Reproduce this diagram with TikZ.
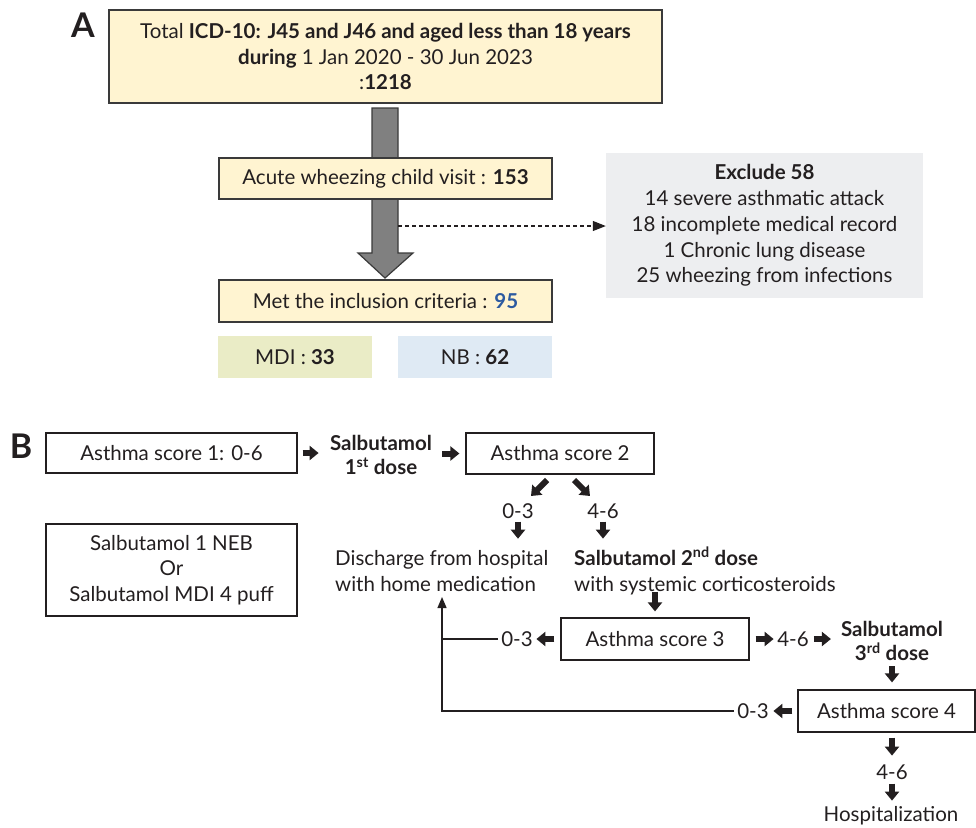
\documentclass[tikz,border=0pt]{standalone}
\usepackage{fontspec}
\setmainfont{Lato}
\usetikzlibrary{arrows.meta}
\definecolor{txt}{HTML}{231F20}
\definecolor{yel}{HTML}{FFF4D1}
\definecolor{bord}{HTML}{3A3A3A}
\definecolor{arrgray}{HTML}{808080}
\definecolor{mdic}{HTML}{EAECC6}
\definecolor{nbc}{HTML}{DFEAF4}
\definecolor{exc}{HTML}{EDEEF0}
\definecolor{blu}{HTML}{2C5AA0}
\begin{document}
\begin{tikzpicture}[x=1pt,y=-1pt,
  every node/.style={text=txt, font=\fontsize{20.5}{25.8}\selectfont},
  ybox/.style={draw=bord, line width=1.2pt, fill=yel, inner sep=0pt, align=center},
  wbox/.style={draw=txt, line width=1.2pt, fill=white, inner sep=0pt, align=center},
  flat/.style={inner sep=0pt, align=center},
  lab/.style={inner sep=3pt},
  panel/.style={font=\fontsize{34}{34}\selectfont\bfseries, inner sep=0pt},
  barrow/.style={draw=txt, line width=6pt, -{Triangle[length=9pt,width=14pt]}},
  thinarrow/.style={draw=txt, line width=1.3pt, -{Triangle[length=11pt,width=9pt]}},
]
\useasboundingbox (0,0) rectangle (976,827);

% ---------- Part A ----------
\node[panel] (A) at (83,25) {A};
\node[ybox, minimum width=553pt, minimum height=93pt] (b1) at (385.5,56.5)
  {Total \textbf{ICD-10: J45 and J46 and aged less than 18 years}\\
   \textbf{during} 1 Jan 2020 - 30 Jun 2023\\
   :\textbf{1218}};

\path[draw=bord, line width=1.2pt, fill=arrgray]
  (372,108) -- (398,108) -- (398,253) -- (413,253) -- (385,278) -- (358,253) -- (372,253) -- cycle;
\coordinate (shaftR) at (398,226);

\node[ybox, minimum width=333pt, minimum height=41pt] (b2) at (385.5,178.5)
  {Acute wheezing child visit : \textbf{153}};
\node[ybox, minimum width=333pt, minimum height=42pt] (b3) at (385.5,301)
  {Met the inclusion criteria : \textbf{\textcolor{blu}{95}}};
\node[flat, fill=mdic, minimum width=154pt, minimum height=42pt] (mdi) at (295,357)
  {MDI : \textbf{33}};
\node[flat, fill=nbc, minimum width=154pt, minimum height=42pt] (nb) at (475,357)
  {NB : \textbf{62}};
\node[flat, fill=exc, minimum width=317pt, minimum height=145pt] (ex) at (764.5,225.5)
  {\textbf{Exclude 58}\\
   14 severe asthmatic attack\\
   18 incomplete medical record\\
   1 Chronic lung disease\\
   25 wheezing from infections};
\draw[draw=txt, line width=1.2pt, dash pattern=on 4pt off 3pt,
      -{Triangle[length=13pt,width=10pt]}] (shaftR) -- (ex.west |- shaftR);

% ---------- Part B ----------
\node[panel] (B) at (21,446) {B};
\node[wbox, minimum width=251pt, minimum height=40pt] (s1) at (171.5,453)
  {Asthma score 1: 0-6};
\node[flat, font=\fontsize{20.5}{24}\selectfont\bfseries] (sal1) at (381,455)
  {Salbutamol\\1\textsuperscript{st} dose};
\node[wbox, minimum width=188pt, minimum height=41pt] (s2) at (560,453.5)
  {Asthma score 2};
\node[wbox, minimum width=251pt, minimum height=92pt] (neb) at (171.5,570)
  {Salbutamol 1 NEB\\Or\\Salbutamol MDI 4 puff};

\node[lab] (r03a) at (518,511) {0-3};
\node[lab] (r46a) at (603,511) {4-6};
\node[flat, anchor=west, align=left] (dis) at (335,571)
  {Discharge from hospital\\with home medication};
\node[flat, anchor=west, align=left] (sal2) at (574,571)
  {\textbf{Salbutamol 2\textsuperscript{nd} dose}\\with systemic corticosteroids};
\node[wbox, minimum width=188pt, minimum height=42pt] (s3) at (655,639)
  {Asthma score 3};
\node[lab] (r03b) at (517,639) {0-3};
\node[lab] (r46b) at (793,639) {4-6};
\node[flat, font=\fontsize{20.5}{24}\selectfont\bfseries] (sal3) at (892,641)
  {Salbutamol\\3\textsuperscript{rd} dose};
\node[wbox, minimum width=177pt, minimum height=42pt] (s4) at (886.5,711)
  {Asthma score 4};
\node[lab] (r03c) at (753,711) {0-3};
\node[lab] (r46c) at (892,772) {4-6};
\node[flat] (hosp) at (891,816) {Hospitalization};
\coordinate (disin) at (442,597);

% block arrows
\draw[barrow] ([xshift=5pt]s1.east) -- ++(16,0);
\draw[barrow] ([xshift=-23pt]s2.west) -- ++(17,0);
\draw[barrow] (547,480) -- (531,496);
\draw[barrow] (574,480) -- (590,496);
\draw[barrow] (r03a.south) -- ++(0,17);
\draw[barrow] (r46a.south) -- ++(0,17);
\draw[barrow] ([yshift=25pt]s3.north) -- ++(0,19);
\draw[barrow] ([xshift=-6pt]s3.west) -- ++(-18,0);
\draw[barrow] ([xshift=6pt]s3.east) -- ++(18,0);
\draw[barrow] ([xshift=2pt]r46b.east) -- ++(17,0);
\draw[barrow] ([yshift=23pt]s4.north -| sal3) -- ++(0,16);
\draw[barrow] ([xshift=5.5pt,yshift=-5pt]s4.south) -- ++(0,18);
\draw[barrow] ([xshift=-5pt]s4.west) -- ++(-19,0);
\draw[barrow] ([yshift=-1pt]r46c.south) -- ++(0,17);

% return connectors
\draw[draw=txt, line width=1.3pt] (r03b.west) -- (r03b.west -| disin);
\draw[thinarrow] (r03c.west) -| (disin);
\end{tikzpicture}
\end{document}
